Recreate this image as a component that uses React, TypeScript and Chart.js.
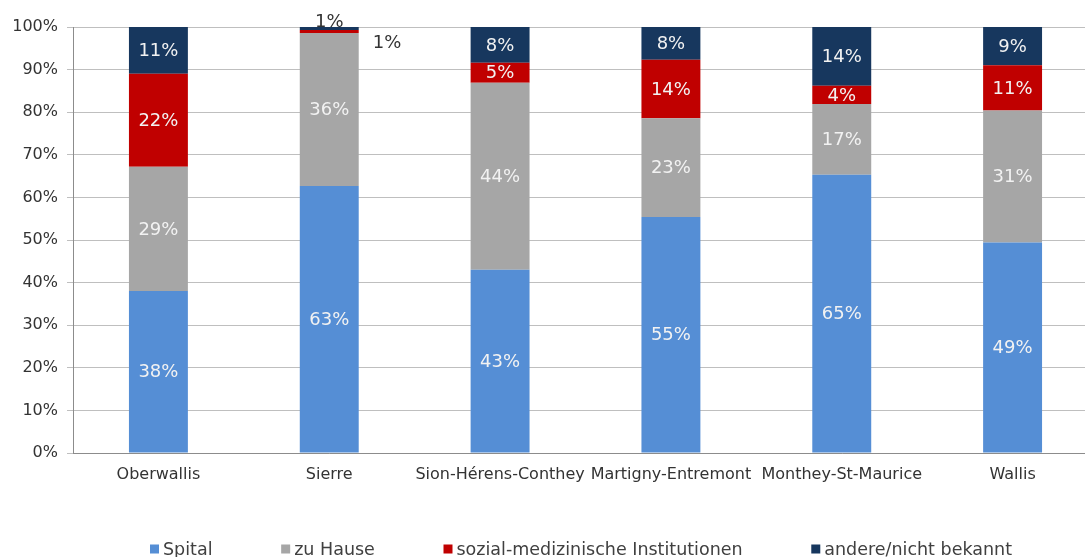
import React, { useEffect, useRef } from "react";
import { Chart, registerables } from "chart.js";

Chart.register(...registerables);

const categories = [
  "Oberwallis",
  "Sierre",
  "Sion-Hérens-Conthey",
  "Martigny-Entremont",
  "Monthey-St-Maurice",
  "Wallis",
];
const spital = [38.0, 62.7, 43.0, 55.4, 65.3, 49.4];
const zuHause = [29.2, 35.9, 43.9, 23.2, 16.6, 31.0];
const sozial = [21.8, 0.7, 4.7, 13.7, 4.3, 10.6];
const andere = [11.0, 0.7, 8.4, 7.7, 13.8, 9.0];

const seriesNames = ["Spital", "zu Hause", "sozial-medizinische Institutionen", "andere/nicht bekannt"];
const seriesColors = ["#558ED5", "#A6A6A6", "#C00000", "#17375E"];
const yTicks = [0, 10, 20, 30, 40, 50, 60, 70, 80, 90, 100];

const FAMILY = '"DejaVu Sans", Verdana, sans-serif';
const LABEL_FONT = "18px " + FAMILY;
const LEGEND_FONT = "17.5px " + FAMILY;

const valueLabels = {
  id: "valueLabels",
  afterDatasetsDraw(chart: any) {
    const ctx = chart.ctx;
    ctx.save();
    ctx.font = LABEL_FONT;
    const last = chart.data.datasets.length - 1;
    chart.data.datasets.forEach((ds: any, di: number) => {
      const meta = chart.getDatasetMeta(di);
      meta.data.forEach((bar: any, i: number) => {
        const v = ds.data[i];
        const txt = Math.round(v) + "%";
        const p = bar.getProps(["x", "y", "base", "width"], true);
        const h = Math.abs(p.base - p.y);
        if (h >= 14) {
          ctx.fillStyle = "#F2F2F2";
          ctx.textAlign = "center";
          ctx.textBaseline = "middle";
          ctx.fillText(txt, p.x, (p.y + p.base) / 2 + 1);
        } else if (di === last) {
          ctx.fillStyle = "#333333";
          ctx.textAlign = "center";
          ctx.textBaseline = "alphabetic";
          ctx.fillText(txt, p.x, p.y);
        } else {
          ctx.fillStyle = "#333333";
          ctx.textAlign = "left";
          ctx.textBaseline = "middle";
          ctx.fillText(txt, p.x + p.width / 2 + 14, (p.y + p.base) / 2 + 12);
        }
      });
    });
    ctx.restore();
  },
};

const customLegend = {
  id: "customLegend",
  afterDraw(chart: any) {
    const ctx = chart.ctx;
    ctx.save();
    ctx.font = LEGEND_FONT;
    const box = 9;
    const boxGap = 4;
    const left = 150;
    const right = 1012;
    const widths = seriesNames.map((n) => box + boxGap + ctx.measureText(n).width);
    const sum = widths.reduce((a, b) => a + b, 0);
    const gap = (right - left - sum) / (widths.length - 1);
    let x = left;
    const y = 549;
    seriesNames.forEach((n, i) => {
      ctx.fillStyle = seriesColors[i];
      ctx.fillRect(x, y - box / 2, box, box);
      ctx.fillStyle = "#404040";
      ctx.textAlign = "left";
      ctx.textBaseline = "middle";
      ctx.fillText(n, x + box + boxGap, y + 1);
      x += widths[i] + gap;
    });
    ctx.restore();
  },
};

export default function App() {
  const ref = useRef<HTMLCanvasElement | null>(null);
  useEffect(() => {
    if (!ref.current) return;
    const chart = new Chart(ref.current, {
      type: "bar",
      data: {
        labels: categories,
        datasets: [spital, zuHause, sozial, andere].map((d, i) => ({
          label: seriesNames[i],
          data: d,
          backgroundColor: seriesColors[i],
          borderWidth: 0,
          barPercentage: 0.345,
          categoryPercentage: 1,
        })),
      },
      options: {
        animation: false,
        responsive: false,
        devicePixelRatio: 1,
        layout: { padding: { top: 27, right: 12, left: 0, bottom: 0 } },
        plugins: {
          legend: { display: false },
          tooltip: { enabled: false },
        },
        scales: {
          x: {
            stacked: true,
            grid: { display: false, drawTicks: false },
            border: { display: true, color: "#8C8C8C", width: 1 },
            ticks: {
              padding: 12,
              color: "#333333",
              font: { family: FAMILY, size: 16 },
              maxRotation: 0,
              autoSkip: false,
            },
            afterFit(scale: any) {
              scale.height = 104;
            },
          },
          y: {
            stacked: true,
            min: 0,
            max: 100,
            afterBuildTicks(scale: any) {
              scale.ticks = yTicks.map((v) => ({ value: v }));
            },
            grid: { color: "#BFBFBF", lineWidth: 1, tickLength: 6 },
            border: { display: true, color: "#8C8C8C", width: 1 },
            ticks: {
              padding: 9,
              color: "#333333",
              font: { family: FAMILY, size: 16 },
              callback: (v: any) => v + "%",
            },
            afterFit(scale: any) {
              scale.width = 73;
            },
          },
        },
      } as any,
      plugins: [valueLabels, customLegend],
    });
    return () => chart.destroy();
  }, []);
  return (
    <div
      style={{
        position: "fixed",
        left: 0,
        top: 0,
        width: 1085,
        height: 557,
        overflow: "hidden",
        background: "#FFFFFF",
      }}
    >
      <canvas ref={ref} width={1110} height={557} style={{ width: 1110, height: 557, display: "block" }} />
    </div>
  );
}
